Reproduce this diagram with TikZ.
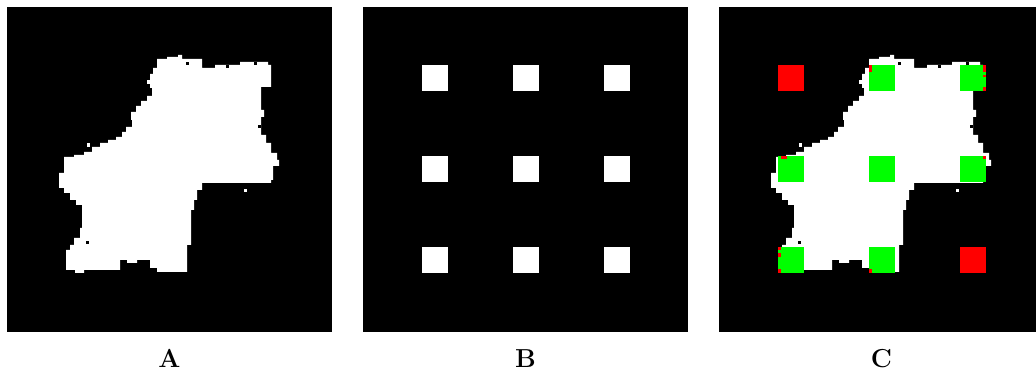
\documentclass[tikz,border=0pt]{standalone}
\usepackage{fontspec}
\usepackage{tikz}
\definecolor{pgreen}{RGB}{0,255,0}
\definecolor{pred}{RGB}{255,0,0}
\newcommand\lblfont{\fontsize{26pt}{30pt}\selectfont\bfseries}
\tikzset{
  panel/.style={fill=black,draw=none},
  blobfill/.style={fill=white,draw=none},
  marker/.style={fill=white,draw=none},
  hitbox/.style={fill=pgreen,draw=none},
  missbox/.style={fill=pred,draw=none},
  lbl/.style={inner sep=0pt,anchor=base}
}
\newcommand\blobshape{(157,63) -- (157,59) -- (167,59) -- (167,57) -- (178,57) -- (178,55) -- (182,55) -- (182,59) -- (202,59) -- (202,68) -- (215,68) -- (215,65) -- (240,65) -- (240,62) -- (268,62) -- (268,65) -- (271,65) -- (271,87) -- (261,87) -- (261,110) -- (264,110) -- (264,117) -- (261,117) -- (261,135) -- (266,135) -- (266,143) -- (271,143) -- (271,153) -- (277,153) -- (277,160) -- (279,160) -- (279,166) -- (273,166) -- (273,180) -- (271,180) -- (271,183) -- (202,183) -- (202,190) -- (197,190) -- (197,200) -- (194,200) -- (194,210) -- (191,210) -- (191,245) -- (187,245) -- (187,272) -- (157,272) -- (157,268) -- (150,268) -- (150,260) -- (137,260) -- (137,263) -- (127,263) -- (127,260) -- (120,260) -- (120,270) -- (84,270) -- (84,273) -- (75,273) -- (75,270) -- (66,270) -- (66,250) -- (70,250) -- (70,245) -- (74,245) -- (74,238) -- (80,238) -- (80,228) -- (82,228) -- (82,205) -- (76,205) -- (76,200) -- (70,200) -- (70,193) -- (64,193) -- (64,188) -- (59,188) -- (59,173) -- (64,173) -- (64,157) -- (74,157) -- (74,155) -- (84,155) -- (84,152) -- (92,152) -- (92,147) -- (100,147) -- (100,143) -- (108,143) -- (108,140) -- (116,140) -- (116,137) -- (122,137) -- (122,132) -- (126,132) -- (126,127) -- (132,127) -- (132,120) -- (131,120) -- (131,112) -- (136,112) -- (136,106) -- (141,106) -- (141,101) -- (147,101) -- (147,96) -- (152,96) -- (152,88) -- (150,88) -- (150,74) -- (153,74) -- (153,68) -- (157,68) -- cycle}
\newcommand\blobspecks{%
  \fill[white] (274,153) rectangle (277,156);
  \fill[white] (244,189) rectangle (247,192);
  \fill[white] (125,140) rectangle (128,143);
  \fill[white] (87,143) rectangle (90,147);
  \fill[white] (98,148) rectangle (101,152);
  \fill[white] (147,80) rectangle (150,84);
  \fill[white] (128,128) rectangle (131,131);
  \fill[black] (186,62) rectangle (189,65);
  \fill[black] (86,241) rectangle (89,244);
  \fill[black] (226,65) rectangle (229,68);
  \fill[black] (254,62) rectangle (257,65);
  \fill[black] (258,125) rectangle (261,128);
  \fill[black] (188,259) rectangle (191,262);
}
\begin{document}
\begin{tikzpicture}[x=1pt,y=-1pt]
\useasboundingbox (0,0) rectangle (1036,371);
\fill[white] (0,0) rectangle (1036,371);
% Panel A
\path[panel] (7,7) rectangle (332,332);
\path[blobfill] \blobshape;
\blobspecks
% Panel B
\path[panel] (363,7) rectangle (688,332);
\foreach \cx in {422,513,604}{
  \foreach \cy in {65,156,247}{
    \path[marker] (\cx,\cy) rectangle ++(26,26);
  }
}
% Panel C
\path[panel] (719,7) rectangle (1036,332);
\begin{scope}[shift={(712,0)}]
  \path[blobfill] \blobshape;
  \blobspecks
\end{scope}
\path[missbox] (778,65) rectangle ++(26,26);
\path[missbox] (960,247) rectangle ++(26,26);
\foreach \cx/\cy in {869/65,960/65,778/156,869/156,960/156,778/247,869/247}{
  \path[hitbox] (\cx,\cy) rectangle ++(26,26);
}
\path[missbox] (869,65) rectangle (872,72);
\path[missbox] (983,65) rectangle (986,72);
\path[missbox] (983,75) rectangle (986,77);
\path[missbox] (983,87) rectangle (986,91);
\path[missbox] (781,156) rectangle (787,159);
\path[missbox] (983,156) rectangle (986,159);
\path[missbox] (778,247) rectangle (781,250);
\path[missbox] (778,253) rectangle (781,257);
\path[missbox] (778,269) rectangle (781,273);
\path[missbox] (869,269) rectangle (872,273);
% Labels
\node[lbl] (la) at (169.5,367) {\lblfont A};
\node[lbl] (lb) at (525.5,367) {\lblfont B};
\node[lbl] (lc) at (881.5,367) {\lblfont C};
\end{tikzpicture}
\end{document}
